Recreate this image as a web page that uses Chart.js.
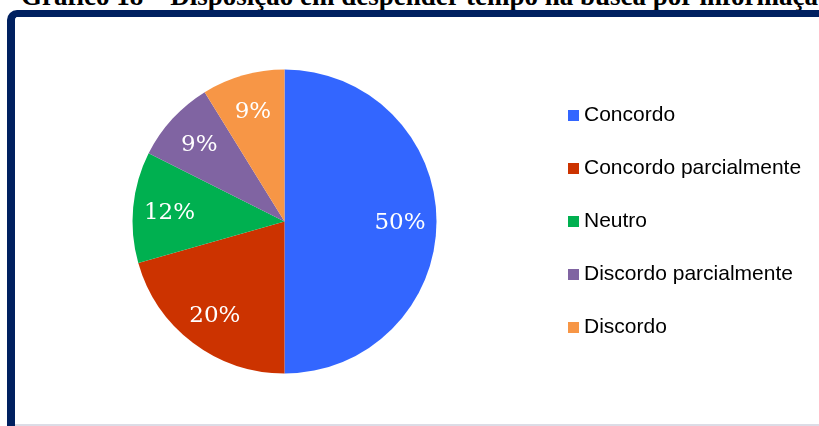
<!DOCTYPE html>
<html lang="pt">
<head>
<meta charset="utf-8">
<title>Gráfico 18</title>
<script src="https://cdn.jsdelivr.net/npm/chart.js@4.4.1/dist/chart.umd.min.js"></script>
<style>
  html, body { margin: 0; padding: 0; background: #fff; overflow: hidden; }
  body { width: 819px; height: 426px; position: relative; }
  #title {
    position: absolute; left: 21px; top: -17px; white-space: nowrap;
    font: bold 27px/27px 'Liberation Serif', 'Times New Roman', serif; color: #000;
  }
  #frame {
    position: absolute; left: 7px; top: 10px; width: 900px; height: 500px;
    box-sizing: border-box;
    border-left: 8px solid #002060; border-top: 7px solid #002060;
    border-top-left-radius: 10px;
  }
  #base { position: absolute; left: 15px; right: 0; top: 424px; height: 2px; background: #dcdce6; }
  #chart { position: absolute; left: 0; top: 0; }
</style>
</head>
<body>
<div id="title">Gráfico 18 – Disposição em despender tempo na busca por informação</div>
<div id="frame"></div>
<div id="base"></div>
<canvas id="chart" width="819" height="426"></canvas>

<script>
// ── DATA ──────────────────────────────────────────────────────
const LABELS   = ['Concordo', 'Concordo parcialmente', 'Neutro', 'Discordo parcialmente', 'Discordo'];
const VALUES   = [50, 20.6, 11.8, 8.8, 8.8];
const PCT_TEXT = ['50%', '20%', '12%', '9%', '9%'];
const COLORS   = ['#3366FF', '#CC3300', '#00B050', '#8064A2', '#F79646'];

// ── LAYOUT ────────────────────────────────────────────────────
const LEGEND_FONT = { family: "'Liberation Sans', Arial, sans-serif", size: 21 };
const LEGEND_PAD  = 32;
const BOX         = 11;
const LEGEND_LEFT = 530.5;

// legend marker: square sits on the right half so it hugs the text
function _swatch(color) {
  const c = document.createElement('canvas');
  c.width = BOX * 2; c.height = BOX;
  const g = c.getContext('2d');
  g.fillStyle = color;
  g.fillRect(BOX, 0, BOX, BOX);
  return c;
}
const SWATCHES = COLORS.map(_swatch);

// work out right padding so the legend starts where it should
const mctx = document.createElement('canvas').getContext('2d');
mctx.font = 'normal ' + LEGEND_FONT.size + 'px ' + LEGEND_FONT.family;
const maxText  = Math.max(...LABELS.map(l => mctx.measureText(l).width));
const legendW  = LEGEND_PAD + BOX + LEGEND_FONT.size / 2 + maxText + 10;
const padRight = 819 - LEGEND_LEFT - legendW;

// ── PERCENT LABELS ────────────────────────────────────────────
const pctLabels = {
  id: 'pctLabels',
  afterDatasetsDraw(chart) {
    const ctx  = chart.ctx;
    const meta = chart.getDatasetMeta(0);
    ctx.save();
    ctx.font = "23px 'DejaVu Serif', serif";
    ctx.fillStyle = '#fff';
    ctx.textAlign = 'center';
    ctx.textBaseline = 'middle';
    meta.data.forEach((arc, i) => {
      const { x, y, startAngle, endAngle, outerRadius } =
        arc.getProps(['x', 'y', 'startAngle', 'endAngle', 'outerRadius'], true);
      const mid = (startAngle + endAngle) / 2;
      const r   = outerRadius * 0.76;
      ctx.fillText(PCT_TEXT[i], x + Math.cos(mid) * r, y + Math.sin(mid) * r + 2);
    });
    ctx.restore();
  }
};

// ── CHART ─────────────────────────────────────────────────────
new Chart(document.getElementById('chart').getContext('2d'), {
  type: 'pie',
  data: {
    labels: LABELS,
    datasets: [{
      data: VALUES,
      backgroundColor: COLORS,
      borderWidth: 0,
      hoverOffset: 0,
    }],
  },
  options: {
    responsive: false,
    animation: false,
    events: [],
    layout: { padding: { top: 69.5, bottom: 52.5, left: 38.5, right: padRight } },
    plugins: {
      title: { display: false },
      tooltip: { enabled: false },
      legend: {
        position: 'right',
        align: 'center',
        labels: {
          usePointStyle: true,
          boxWidth: BOX, boxHeight: BOX,
          padding: LEGEND_PAD,
          color: '#000',
          font: LEGEND_FONT,
          generateLabels: () => LABELS.map((l, i) => ({
            text: l,
            pointStyle: SWATCHES[i],
            fillStyle: COLORS[i],
            strokeStyle: COLORS[i],
            lineWidth: 0,
            fontColor: '#000',
            hidden: false,
            index: i,
          })),
        },
      },
    },
  },
  plugins: [pctLabels],
});
</script>
</body>
</html>
